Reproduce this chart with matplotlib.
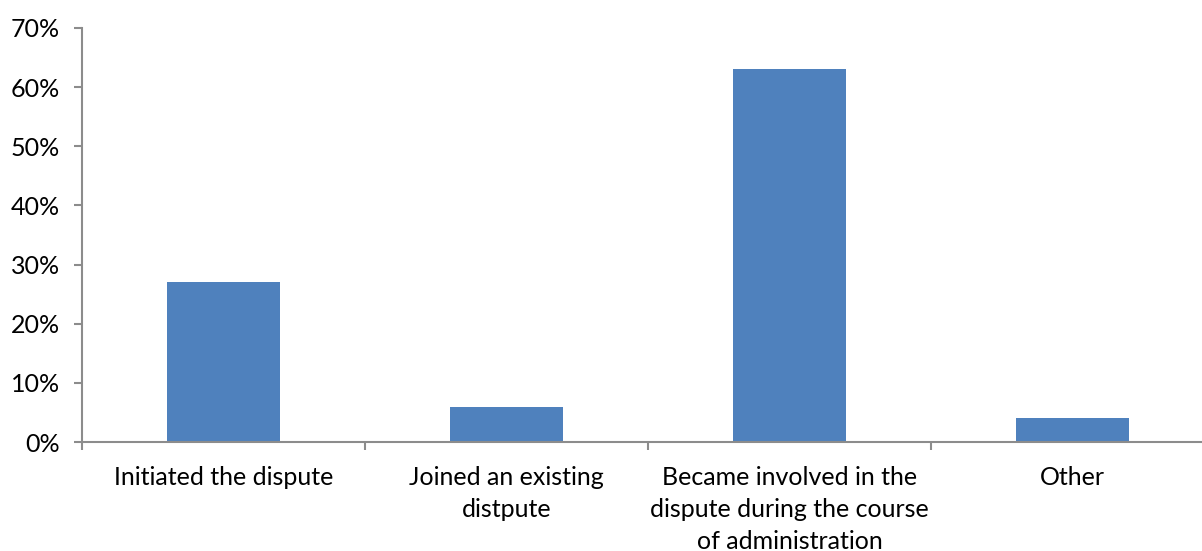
import matplotlib.pyplot as plt
from matplotlib.ticker import FuncFormatter

# Share of respondents by how they became involved in the dispute
categories = ["Initiated the dispute",
              "Joined an existing\ndistpute",
              "Became involved in the\ndispute during the course\nof administration",
              "Other"]
shares = [0.27, 0.06, 0.63, 0.04]

plt.rcParams['font.family'] = ['Lato', 'DejaVu Sans']
grey = '#8c8c8c'

fig = plt.figure(figsize=(12.02, 5.51), dpi=100)
ax = fig.add_axes([0.0682, 0.1978, 0.9418, 0.7514])

pos = list(range(len(categories)))
ax.bar(pos, shares, width=0.4, color='#4F81BD')

ax.set_xlim(-0.5, len(categories) - 0.5)
ax.set_ylim(0, 0.7)
ax.set_yticks([i / 10 for i in range(8)])
ax.yaxis.set_major_formatter(FuncFormatter(lambda v, p: f"{v*100:.0f}%"))

# labels centred under bars, tick marks on the category boundaries
ax.set_xticks(pos)
ax.set_xticklabels(categories, linespacing=1.48, va='top')
ax.set_xticks([p - 0.5 for p in pos] + [len(categories) - 0.5], minor=True)
ax.tick_params(axis='x', which='major', length=0, pad=17, labelsize=18)
ax.tick_params(axis='x', which='minor', length=6, width=1.5, color=grey)
ax.tick_params(axis='y', length=6, width=1.5, color=grey, pad=10, labelsize=18)

for s in ['top', 'right']:
    ax.spines[s].set_visible(False)
for s in ['left', 'bottom']:
    ax.spines[s].set_color(grey)
    ax.spines[s].set_linewidth(1.5)

fig.savefig('out.png', dpi=100)
